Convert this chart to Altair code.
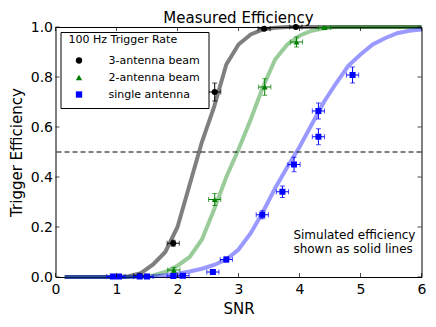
import altair as alt
import pandas as pd

# ---------------- data ----------------
series_names = ["3-antenna beam", "2-antenna beam", "single antenna"]
marker_colors = ["black", "#007f00", "#0000ff"]
marker_shapes = ["circle", "triangle-up", "square"]

# measured points (SNR, efficiency, vertical error)
s3_x = [1.38, 1.93, 2.61, 3.42, 3.94]
s3_y = [0.005, 0.135, 0.74, 0.993, 1.0]
s3_yerr = [0.004, 0.012, 0.036, 0.005, 0.003]

s2_x = [1.94, 2.61, 3.43, 3.95, 4.41]
s2_y = [0.028, 0.31, 0.76, 0.94, 0.998]
s2_yerr = [0.01, 0.024, 0.033, 0.02, 0.004]

s1_x = [0.94, 1.04, 1.38, 1.50, 1.93, 2.09, 2.58, 2.80, 3.39, 3.72, 3.91, 4.31, 4.31, 4.87]
s1_y = [0.002, 0.002, 0.002, 0.002, 0.004, 0.005, 0.02, 0.07, 0.249, 0.341, 0.45, 0.561, 0.664, 0.808]
s1_yerr = [0.002, 0.002, 0.002, 0.002, 0.003, 0.004, 0.008, 0.01, 0.016, 0.023, 0.029, 0.032, 0.032, 0.032]

snr_err = 0.1

# simulated efficiency curves
sim_x = [0.15, 0.6, 1.0, 1.2, 1.4, 1.6, 1.8, 2.0, 2.2, 2.4, 2.6, 2.8, 3.0, 3.2,
         3.4, 3.6, 3.8, 4.0, 4.2, 4.4, 4.6, 4.8, 5.0, 5.2, 5.4, 5.6, 5.8, 6.0]
sim3 = [0, 0, 0, 0.003, 0.015, 0.05, 0.10, 0.20, 0.37, 0.54, 0.68, 0.85, 0.93, 0.97,
        0.99, 0.997, 1, 1, 1, 1, 1, 1, 1, 1, 1, 1, 1, 1]
sim2 = [0, 0, 0, 0, 0.002, 0.006, 0.02, 0.045, 0.08, 0.15, 0.27, 0.40, 0.51, 0.63,
        0.76, 0.87, 0.93, 0.965, 0.985, 0.995, 1, 1, 1, 1, 1, 1, 1, 1]
sim1 = [0, 0, 0, 0, 0.001, 0.003, 0.007, 0.013, 0.022, 0.033, 0.048, 0.07, 0.11, 0.175,
        0.26, 0.355, 0.44, 0.52, 0.61, 0.70, 0.775, 0.845, 0.89, 0.93, 0.955, 0.975, 0.985, 0.99]
sim_opacity = [0.5, 0.4, 0.4]

x_ticks = [0, 1, 2, 3, 4, 5, 6]
y_ticks = [0.0, 0.2, 0.4, 0.6, 0.8, 1.0]
threshold = [0.5]
note_lines = ["Simulated efficiency", "shown as solid lines"]

# ---------------- tables ----------------
rows = []
for name, xs, ys, es in zip(series_names, [s3_x, s2_x, s1_x], [s3_y, s2_y, s1_y],
                            [s3_yerr, s2_yerr, s1_yerr]):
    for x, y, e in zip(xs, ys, es):
        rows.append({"series": name, "snr": x, "eff": y,
                     "xlo": x - snr_err, "xhi": x + snr_err,
                     "ylo": y - e, "yhi": y + e})
pts = pd.DataFrame(rows)

sim_rows = []
for name, ys in zip(series_names, [sim3, sim2, sim1]):
    for x, y in zip(sim_x, ys):
        sim_rows.append({"series": name, "snr": x, "eff": y})
sim = pd.DataFrame(sim_rows)

# ---------------- scales / axes ----------------
FONT = "DejaVu Sans"
xsc = alt.Scale(domain=[0, 6], nice=False, zero=False)
ysc = alt.Scale(domain=[0, 1], nice=False, zero=False)
xaxis = alt.Axis(values=x_ticks, format="d", title="SNR", titleFontSize=15,
                 labelFontSize=14, labelPadding=5, titlePadding=5, ticks=False,
                 domain=False, grid=False, labelFlush=False, labelOverlap=False,
                 titleFontWeight="normal", labelColor="black", titleColor="black")
yaxis = alt.Axis(values=y_ticks, format=".1f", title="Trigger Efficiency", titleFontSize=15,
                 labelFontSize=14, labelPadding=3, titlePadding=6, ticks=False,
                 domain=False, grid=False, labelFlush=False, labelOverlap=False,
                 titleFontWeight="normal", labelColor="black", titleColor="black")

legend = alt.Legend(title="100 Hz Trigger Rate", orient="top-left", offset=5,
                    strokeColor="black", fillColor="white", padding=8,
                    titleFontSize=11, labelFontSize=11, titleFontWeight="normal",
                    titleFont=FONT, labelFont=FONT, symbolOffset=5, labelOffset=24,
                    symbolSize=40, rowPadding=5, titlePadding=4, titleBaseline="middle",
                    cornerRadius=0, labelColor="black", titleColor="black")

# ---------------- layers ----------------
layers = []

# simulated curves (one layer per series, fixed colours)
for name, col, op in zip(series_names, marker_colors, sim_opacity):
    layers.append(
        alt.Chart(sim).transform_filter(alt.datum.series == name)
        .mark_line(strokeWidth=4, color=col, opacity=op)
        .encode(x=alt.X("snr:Q", scale=xsc, axis=xaxis),
                y=alt.Y("eff:Q", scale=ysc, axis=yaxis))
    )

layers.append(
    alt.Chart(pd.DataFrame({"v": threshold})).mark_rule(
        color="black", strokeWidth=1, strokeDash=[5, 3]
    ).encode(y=alt.Y("v:Q", scale=ysc, axis=yaxis))
)

# error bars with caps
for name, col in zip(series_names, marker_colors):
    b = alt.Chart(pts).transform_filter(alt.datum.series == name)
    layers.append(b.mark_rule(strokeWidth=1, color=col).encode(
        x=alt.X("xlo:Q", scale=xsc, axis=xaxis), x2="xhi:Q",
        y=alt.Y("eff:Q", scale=ysc, axis=yaxis)))
    layers.append(b.mark_rule(strokeWidth=1, color=col).encode(
        x=alt.X("snr:Q", scale=xsc, axis=xaxis),
        y=alt.Y("ylo:Q", scale=ysc, axis=yaxis), y2="yhi:Q"))
    layers.append(b.transform_fold(["xlo", "xhi"], as_=["k", "xc"]).mark_tick(
        orient="vertical", size=5, thickness=1, color=col).encode(
        x=alt.X("xc:Q", scale=xsc, axis=xaxis),
        y=alt.Y("eff:Q", scale=ysc, axis=yaxis)))
    layers.append(b.transform_fold(["ylo", "yhi"], as_=["k", "yc"]).mark_tick(
        orient="horizontal", size=5, thickness=1, color=col).encode(
        x=alt.X("snr:Q", scale=xsc, axis=xaxis),
        y=alt.Y("yc:Q", scale=ysc, axis=yaxis)))

layers.append(
    alt.Chart(pts).mark_point(filled=True, opacity=1, size=36).encode(
        x=alt.X("snr:Q", scale=xsc, axis=xaxis),
        y=alt.Y("eff:Q", scale=ysc, axis=yaxis),
        color=alt.Color("series:N",
                        scale=alt.Scale(domain=series_names, range=marker_colors),
                        legend=legend),
        shape=alt.Shape("series:N",
                        scale=alt.Scale(domain=series_names, range=marker_shapes),
                        legend=legend),
    )
)

# inward ticks on all four sides
xt = pd.DataFrame({"v": x_ticks})
yt = pd.DataFrame({"v": y_ticks})
layers.append(alt.Chart(xt).mark_tick(orient="vertical", size=4, thickness=1,
                                      color="black", yOffset=-2).encode(
    x=alt.X("v:Q", scale=xsc, axis=xaxis), y=alt.datum(0)))
layers.append(alt.Chart(xt).mark_tick(orient="vertical", size=4, thickness=1,
                                      color="black", yOffset=2).encode(
    x=alt.X("v:Q", scale=xsc, axis=xaxis), y=alt.datum(1)))
layers.append(alt.Chart(yt).mark_tick(orient="horizontal", size=4, thickness=1,
                                      color="black", xOffset=2).encode(
    y=alt.Y("v:Q", scale=ysc, axis=yaxis), x=alt.datum(0)))
layers.append(alt.Chart(yt).mark_tick(orient="horizontal", size=4, thickness=1,
                                      color="black", xOffset=-2).encode(
    y=alt.Y("v:Q", scale=ysc, axis=yaxis), x=alt.datum(6)))

layers.append(
    alt.Chart(pd.DataFrame({"x": [3.9], "y": [0.168]})).mark_text(
        text=note_lines, align="left", baseline="middle", fontSize=12, lineHeight=14,
        font=FONT, color="black").encode(
        x=alt.X("x:Q", scale=xsc, axis=xaxis), y=alt.Y("y:Q", scale=ysc, axis=yaxis))
)

chart = alt.layer(*layers).properties(
    width=366, height=250,
    title=alt.TitleParams("Measured Efficiency", fontSize=15, fontWeight="normal",
                          offset=5, dy=12, color="black", font=FONT),
    autosize=alt.AutoSizeParams(type="none"),
    padding={"left": 47.5, "top": 19, "right": 6, "bottom": 40},
).configure(font=FONT).configure_view(
    stroke="black", strokeWidth=1
)

chart.save("out.html", embed_options={"renderer": "svg", "actions": False})
